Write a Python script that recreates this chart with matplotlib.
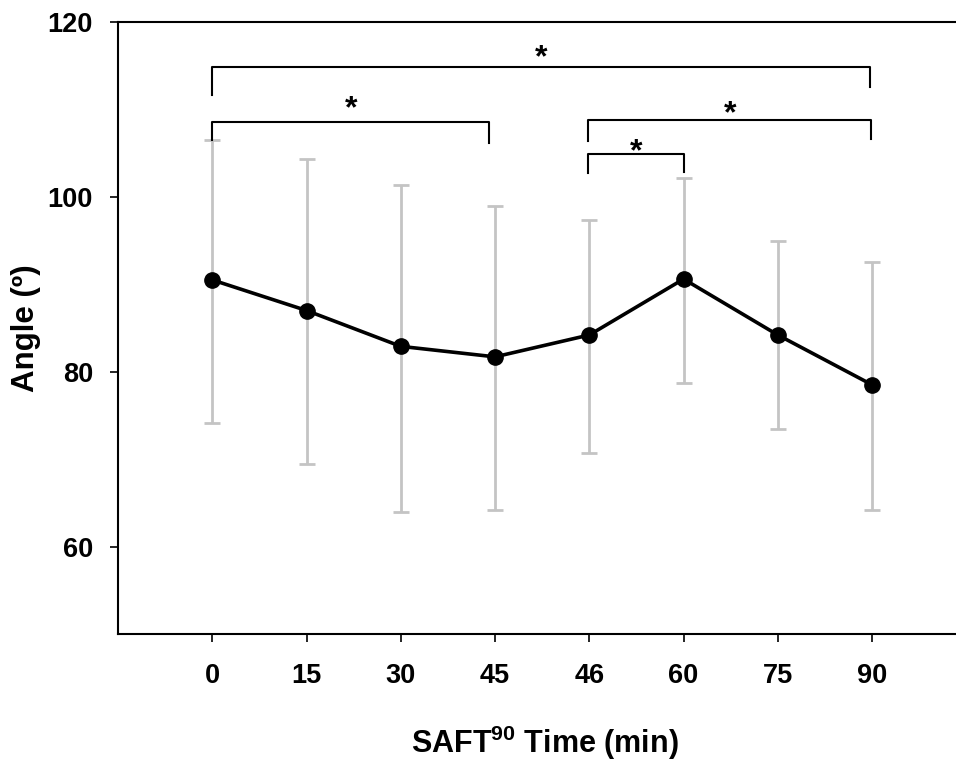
import numpy as np
import matplotlib
matplotlib.use("Agg")
import matplotlib.pyplot as plt

plt.rcParams['font.family'] = ['Liberation Sans', 'DejaVu Sans']
plt.rcParams['font.weight'] = 'bold'
plt.rcParams['mathtext.fontset'] = 'custom'
plt.rcParams['mathtext.rm'] = 'Liberation Sans:bold'
plt.rcParams['mathtext.default'] = 'rm'

# data
time_labels = ['0', '15', '30', '45', '46', '60', '75', '90']
mean_angle = [90.5, 87.0, 82.9, 81.7, 84.2, 90.6, 84.2, 78.5]
upper_err = [106.5, 104.3, 101.3, 98.9, 97.4, 102.2, 94.9, 92.5]
lower_err = [74.1, 69.4, 64.0, 64.2, 70.7, 78.7, 73.4, 64.2]

# significance brackets: (x start, x end, bar y, left foot, right foot, star y)
brackets = [(0, 6.98, 114.9, 111.7, 112.6, 116.6),
            (0, 2.94, 108.6, 106.5, 106.2, 110.7),
            (3.99, 6.99, 108.8, 106.4, 106.6, 110.2),
            (3.99, 5.0, 104.9, 102.7, 102.8, 105.8)]

x = np.arange(len(time_labels))
mean = np.array(mean_angle)
yerr = [mean - np.array(lower_err), np.array(upper_err) - mean]

fig = plt.figure(figsize=(9.56, 7.64), dpi=100)
ax = fig.add_axes([118/956, 130/764, 1 - 118/956, 612/764])

ax.errorbar(x, mean, yerr=yerr, fmt='none', ecolor='#c4c4c4',
            elinewidth=2.0, capsize=6, capthick=2.0, zorder=2)
ax.plot(x, mean, color='black', lw=2.6, marker='o', ms=11,
        mfc='black', mec='black', zorder=3)

star_fs = 23
for x0, x1, yb, yl, yr, ys in brackets:
    ax.plot([x0, x0, x1, x1], [yl, yb, yb, yr], color='black', lw=1.5,
            zorder=4, clip_on=False)
    ax.annotate('*', ((x0 + x1) / 2, ys), xytext=(0, -0.45 * star_fs),
                textcoords='offset points', ha='center', va='baseline',
                fontsize=star_fs, fontweight='bold')

ax.set_xlim(-1, 7.89)
ax.set_ylim(50, 120)
ax.set_xticks(x)
ax.set_xticklabels(time_labels)
ax.set_yticks([60, 80, 100, 120])

ax.spines['right'].set_visible(False)
for s in ['left', 'bottom', 'top']:
    ax.spines[s].set_linewidth(1.5)

ax.tick_params(axis='both', direction='out', length=6, width=1.2,
               labelsize=19.5)
ax.tick_params(axis='x', pad=15)
ax.tick_params(axis='y', pad=12)
ax.tick_params(top=False)

ax.set_xlabel('SAFT$^{90}$ Time (min)', fontsize=22, fontweight='bold')
ax.set_ylabel('Angle (º)', fontsize=22.5, fontweight='bold')
ax.xaxis.label.set_va('center')
ax.yaxis.label.set_va('center')
ax.xaxis.set_label_coords((545 - 118) / (956 - 118), -(743 - 634) / 612)
ax.yaxis.set_label_coords(-(118 - 26) / (956 - 118), (634 - 328) / 612)

fig.savefig('out.png', dpi=100)
